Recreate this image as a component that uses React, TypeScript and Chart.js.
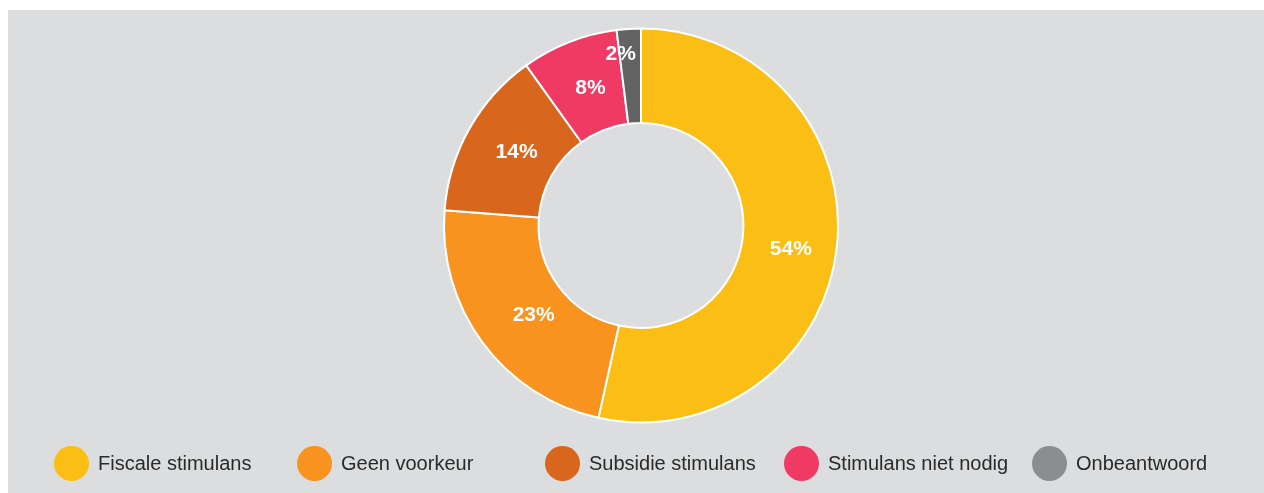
import React, { useEffect, useRef } from "react";
import { Chart, registerables } from "chart.js";

Chart.register(...registerables);

const categories = [
  "Fiscale stimulans",
  "Geen voorkeur",
  "Subsidie stimulans",
  "Stimulans niet nodig",
  "Onbeantwoord",
];
const values = [54, 23, 14, 8, 2];
const valueLabels = ["54%", "23%", "14%", "8%", "2%"];

const sliceColors = ["#FBBE14", "#F7931E", "#D8661D", "#EF3B64", "#636363"];
const legendColors = ["#FBBE14", "#F7931E", "#D8661D", "#EF3B64", "#8C8D8F"];

// label nudges (px) relative to the slice's mid-ring point
const labelShiftX = [1, 13, 6, 4, -11];
const labelShiftY = [7, 1, 0, 2, -22];

// legend item left edges (px, within panel)
const legendLeft = [46, 289, 537, 776, 1024];

const BG = "#DCDDDE";

const labelPlugin = {
  id: "sliceLabels",
  afterDatasetsDraw(chart: any) {
    const ctx = chart.ctx;
    const meta = chart.getDatasetMeta(0);
    ctx.save();
    ctx.font = "bold 21px 'Liberation Sans', Arial, sans-serif";
    ctx.fillStyle = "#ffffff";
    ctx.textAlign = "center";
    ctx.textBaseline = "middle";
    meta.data.forEach((arc: any, i: number) => {
      const p = arc.getProps(
        ["x", "y", "startAngle", "endAngle", "innerRadius", "outerRadius"],
        true
      );
      const mid = (p.startAngle + p.endAngle) / 2;
      const r = (p.innerRadius + p.outerRadius) / 2;
      const x = p.x + Math.cos(mid) * r + labelShiftX[i];
      const y = p.y + Math.sin(mid) * r + labelShiftY[i];
      ctx.fillText(valueLabels[i], x, y);
    });
    ctx.restore();
  },
};

export default function App() {
  const canvasRef = useRef<HTMLCanvasElement | null>(null);

  useEffect(() => {
    if (!canvasRef.current) return;
    const chart = new Chart(canvasRef.current, {
      type: "doughnut",
      data: {
        labels: categories,
        datasets: [
          {
            data: values,
            backgroundColor: sliceColors,
            borderColor: "#ffffff",
            borderWidth: 2,
          },
        ],
      },
      options: {
        animation: false,
        responsive: false,
        maintainAspectRatio: false,
        cutout: "52%",
        layout: { padding: { left: 435, right: 425, top: 17, bottom: 69 } },
        plugins: {
          legend: { display: false },
          tooltip: { enabled: false },
        },
      },
      plugins: [labelPlugin],
    });
    return () => chart.destroy();
  }, []);

  return (
    <div
      style={{
        position: "fixed",
        left: 8,
        top: 10,
        width: 1256,
        height: 483,
        background: BG,
        overflow: "hidden",
      }}
    >
      <canvas
        ref={canvasRef}
        width={1256}
        height={483}
        style={{ position: "absolute", left: 0, top: 0, width: 1256, height: 483 }}
      />
      {categories.map((c, i) => (
        <div
          key={c}
          style={{
            position: "absolute",
            left: legendLeft[i],
            top: 436,
            height: 35,
            display: "flex",
            alignItems: "center",
            whiteSpace: "nowrap",
            fontFamily: "'Liberation Sans', Arial, sans-serif",
            fontSize: 20,
            color: "#2a2a2a",
          }}
        >
          <span
            style={{
              display: "inline-block",
              width: 35,
              height: 35,
              borderRadius: "50%",
              background: legendColors[i],
              marginRight: 9,
            }}
          />
          <span>{c}</span>
        </div>
      ))}
    </div>
  );
}
